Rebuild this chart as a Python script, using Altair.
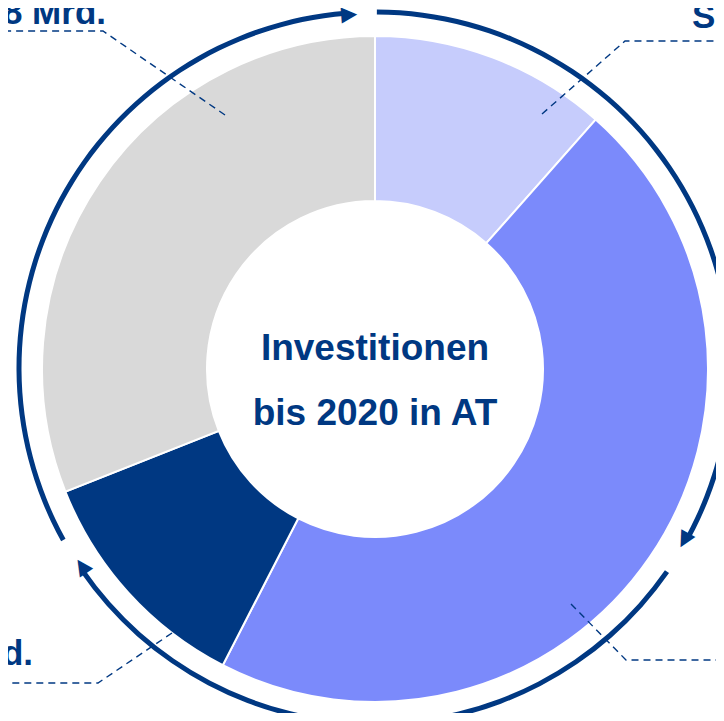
import altair as alt
import pandas as pd

# ---- data ----
segments = ["Segment 1", "Segment 2", "Segment 3", "Segment 4"]
segment_share_deg = [41.5, 165.7, 41.2, 111.6]          # slice sizes (degrees of the circle)
segment_colors = ["#C6CCFC", "#7B8AFB", "#003882", "#D9D9D9"]

center_lines = ["Investitionen", "bis 2020 in AT"]
outer_labels = ["8 Mrd.", "S", "d."]

# cycle arrows round the donut (degrees, clockwise from 12 o'clock)
ring_start = [0.3, 124.9, 241.1]
ring_end = [118.6, 235.4, 355.3]
arrow_theta = [119.1, 235.9, 355.8]

NAVY = "#003882"
W, H = 708, 705
xs = alt.Scale(domain=[8, 8 + W])
ys = alt.Scale(domain=[8, 8 + H], reverse=True)
CX, CY = 375, 369
RCX, RCY = 375, 368

donut_df = pd.DataFrame({"seg": segments, "v": segment_share_deg, "i": list(range(4))})
ring_df = pd.DataFrame({"s": ring_start, "e": ring_end})
arrow_df = pd.DataFrame({"t": arrow_theta, "ang": arrow_theta, "g": ["\u25B6"] * 3})

# leader lines (annotation geometry, page pixels)
lead_df = pd.DataFrame({
    "grp": [1, 1, 1, 2, 2, 2, 3, 3, 3, 4, 4, 4],
    "ord": [0, 1, 2] * 4,
    "x": [225, 103, -10, 542, 625, 740, 172, 98, -10, 571, 626, 740],
    "y": [115, 31, 31, 114, 41, 41, 633, 683, 683, 604, 660, 660],
})
lab_df = pd.DataFrame({"txt": outer_labels, "x": [106, 692, 33], "y": [24, 28, 665],
                       "al": ["right", "left", "right"]})
ctr_df = pd.DataFrame({"txt": center_lines, "x": [375, 375], "y": [360, 425]})

donut = alt.Chart(donut_df).mark_arc(radius=333, radius2=168, stroke="white", strokeWidth=2).encode(
    theta=alt.Theta("v:Q", stack=True),
    color=alt.Color("seg:N", scale=alt.Scale(domain=segments, range=segment_colors), legend=None),
    order=alt.Order("i:Q"),
    x=alt.XDatum(CX, scale=xs, axis=None),
    y=alt.YDatum(CY, scale=ys, axis=None),
)

tscale = alt.Scale(domain=[0, 360], range=[0, 6.283185307179586])
ring = alt.Chart(ring_df).mark_arc(radius=358.5, radius2=353.5, color=NAVY).encode(
    theta=alt.Theta("s:Q", scale=tscale, stack=False),
    theta2="e:Q",
    x=alt.XDatum(RCX, scale=xs, axis=None),
    y=alt.YDatum(RCY, scale=ys, axis=None),
)

arrows = alt.Chart(arrow_df).mark_text(radius=354.5, fontSize=21, font="DejaVu Sans",
                                        color=NAVY, align="center", baseline="middle").encode(
    theta=alt.Theta("t:Q", scale=tscale, stack=False),
    angle=alt.Angle("ang:Q", scale=None),
    text="g:N",
    x=alt.XDatum(RCX, scale=xs, axis=None),
    y=alt.YDatum(RCY, scale=ys, axis=None),
)

leaders = alt.Chart(lead_df).mark_line(color=NAVY, strokeWidth=1.4, strokeDash=[7, 5]).encode(
    x=alt.X("x:Q", scale=xs, axis=None),
    y=alt.Y("y:Q", scale=ys, axis=None),
    detail="grp:N",
    order="ord:Q",
)

labels_r = alt.Chart(lab_df[lab_df.al == "right"]).mark_text(
    align="right", baseline="alphabetic", fontSize=35, fontWeight="bold",
    font="Liberation Sans", color=NAVY).encode(
    x=alt.X("x:Q", scale=xs, axis=None), y=alt.Y("y:Q", scale=ys, axis=None), text="txt:N")
labels_l = alt.Chart(lab_df[lab_df.al == "left"]).mark_text(
    align="left", baseline="alphabetic", fontSize=35, fontWeight="bold",
    font="Liberation Sans", color=NAVY).encode(
    x=alt.X("x:Q", scale=xs, axis=None), y=alt.Y("y:Q", scale=ys, axis=None), text="txt:N")

center = alt.Chart(ctr_df).mark_text(
    align="center", baseline="alphabetic", fontSize=37, fontWeight="bold",
    font="Liberation Sans", color=NAVY).encode(
    x=alt.X("x:Q", scale=xs, axis=None), y=alt.Y("y:Q", scale=ys, axis=None), text="txt:N")

chart = alt.layer(donut, ring, arrows, leaders, labels_r, labels_l, center).resolve_scale(
    theta="independent"
).properties(
    width=W, height=H, autosize=alt.AutoSizeParams(type="none"), padding=0
).configure_view(stroke=None)

chart.save("out.html", embed_options={"renderer": "svg", "actions": False})
